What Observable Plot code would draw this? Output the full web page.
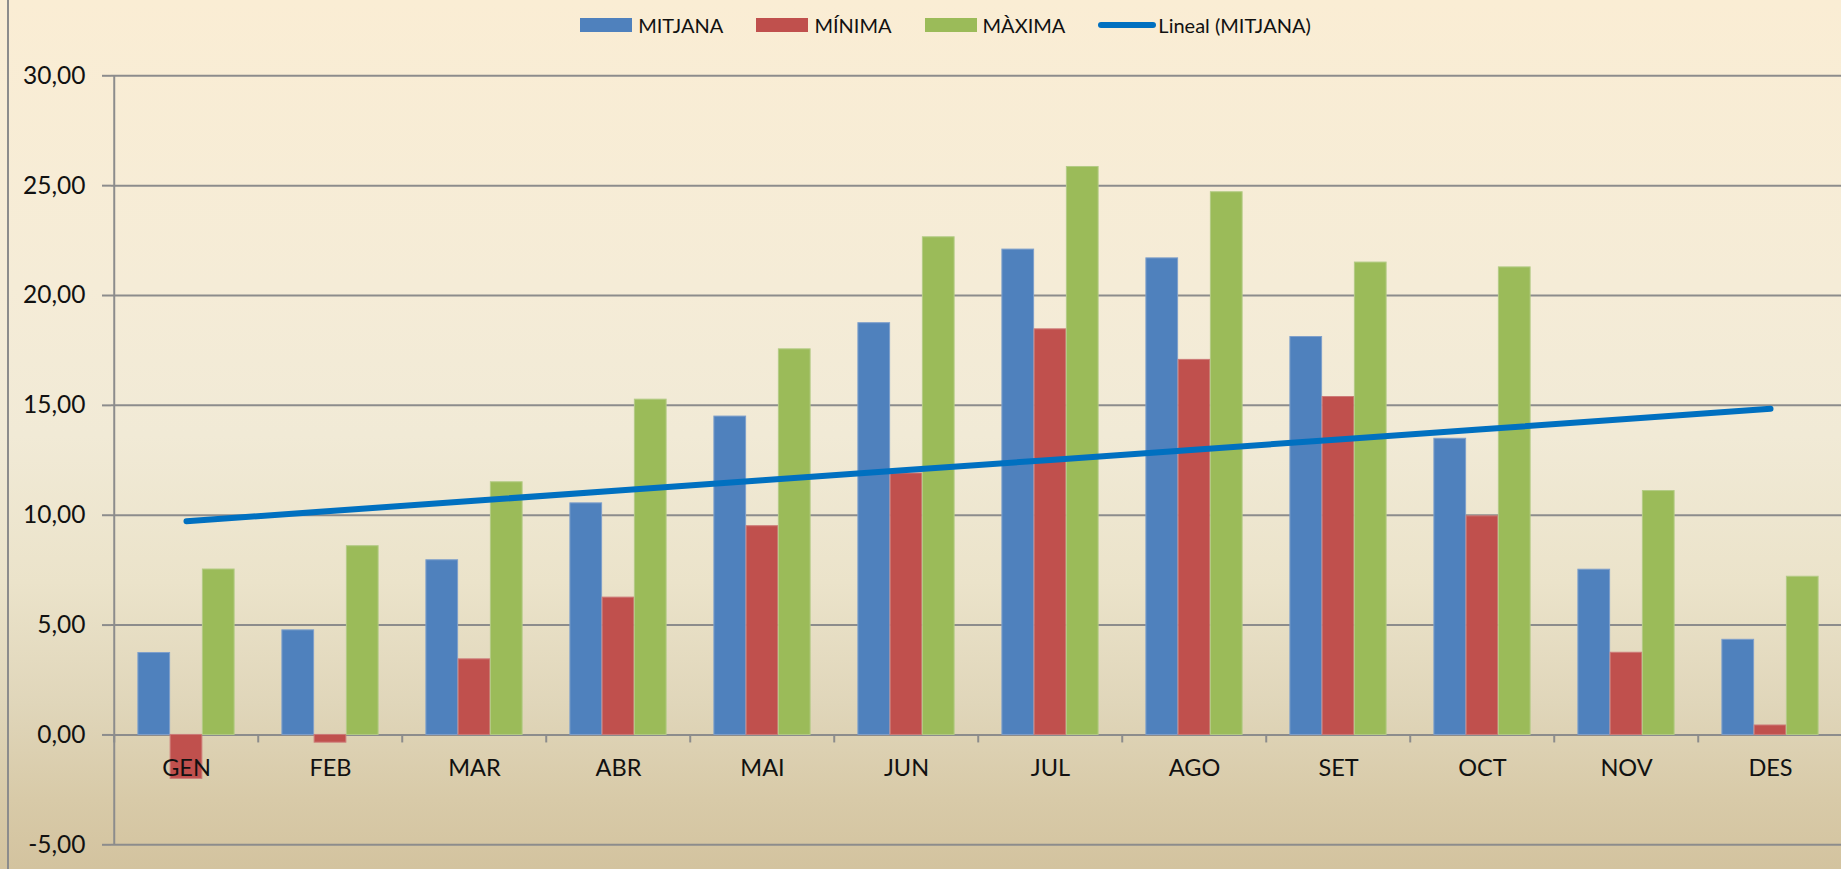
<!DOCTYPE html>
<html><head><meta charset="utf-8">
<script src="https://cdn.jsdelivr.net/npm/d3@7"></script>
<script src="https://cdn.jsdelivr.net/npm/@observablehq/plot@0.6"></script>
<style>
html,body{margin:0;padding:0;width:1841px;height:869px;overflow:hidden;}
body{position:relative;font-family:Lato,"Open Sans",sans-serif;color:#111;
background:linear-gradient(to bottom,#FAEDD4 0%,#F5ECD7 33%,#F1EAD6 50%,#EBE3CA 67%,#E0D6BA 81%,#D8CAA8 92%,#D3C39F 100%);}
#border{position:absolute;left:7px;top:0;width:2px;height:869px;background:#8c8c8c;}
#legend{height:50px;display:flex;align-items:center;justify-content:center;padding-left:50px;box-sizing:border-box;font-size:20px;}
.item{display:flex;align-items:center;margin-right:33px;}
.item:last-child{margin-right:0}
.sw{width:52px;height:14px;margin-right:6px;}
.ln{width:58px;height:6px;border-radius:3px;margin-right:2px;}
#chart svg{display:block;background:transparent;overflow:visible;}
</style></head><body>
<div id="border"></div>
<div id="legend"></div>
<div id="chart"></div>
<script>
const months = ["GEN","FEB","MAR","ABR","MAI","JUN","JUL","AGO","SET","OCT","NOV","DES"];
const mitjana = [3.73, 4.76, 7.95, 10.54, 14.49, 18.74, 22.09, 21.69, 18.11, 13.48, 7.52, 4.33];
const minima  = [-2.00, -0.35, 3.44, 6.25, 9.50, 11.90, 18.46, 17.07, 15.38, 9.95, 3.74, 0.43];
const maxima  = [7.53, 8.59, 11.50, 15.26, 17.55, 22.65, 25.85, 24.70, 21.50, 21.28, 11.10, 7.20];
const yTicks = [-5, 0, 5, 10, 15, 20, 25, 30];
const seriesNames = ["MITJANA", "MÍNIMA", "MÀXIMA"];
const seriesColors = ["#4F81BD", "#C0504D", "#9BBB59"];
const seriesStrokes = ["#7E9FCB", "#CD7A78", "#B3CB85"];
const trendName = "Lineal (MITJANA)";
const trendColor = "#0070C0";

// legend
const legend = document.getElementById("legend");
seriesNames.forEach((name, k) => {
  const it = document.createElement("div"); it.className = "item";
  it.innerHTML = `<div class="sw" style="background:${seriesColors[k]}"></div><span>${name}</span>`;
  legend.appendChild(it);
});
{
  const it = document.createElement("div"); it.className = "item";
  it.innerHTML = `<div class="ln" style="background:${trendColor}"></div><span>${trendName}</span>`;
  legend.appendChild(it);
}

// Excel-style linear trendline of MITJANA (least squares on month index)
const n = mitjana.length;
const mx = d3.mean(d3.range(n)), my = d3.mean(mitjana);
const slope = d3.sum(mitjana, (v, i) => (i - mx) * (v - my)) / d3.sum(d3.range(n), i => (i - mx) ** 2);
const intercept = my - slope * mx;

const W = 1841, H = 819;
const x0 = 110.9, x1 = 1845.2;
const step = (x1 - x0) / months.length;
const bw = 32.25;
const gap = (step - 3 * bw) / 2;
const series = [mitjana, minima, maxima];
const gray = "#8c8c8c";
const fmt = d => d.toFixed(2).replace(".", ",");

const chart = Plot.plot({
  width: W, height: H,
  marginLeft: 111, marginRight: 0, marginTop: 25.3, marginBottom: 24.7,
  style: {background: "transparent", color: "#111", fontFamily: "Lato, 'Open Sans', sans-serif", overflow: "visible"},
  x: {type: "band", domain: months, range: [x0, x1], padding: 0, axis: null},
  y: {domain: [-5, 30], axis: null},
  marks: [
    Plot.ruleY(yTicks, {stroke: gray, strokeWidth: 2}),
    ...series.map((vals, k) => Plot.barY(months, {
      x: d => d, y: (d, i) => vals[i],
      fill: seriesColors[k], stroke: seriesStrokes[k], strokeWidth: 1,
      insetLeft: gap + k * bw, insetRight: step - gap - (k + 1) * bw
    })),
    Plot.ruleX(months, {x: d => d, dx: -step / 2, y1: 0, y2: 0, insetBottom: -8, stroke: gray, strokeWidth: 2}),
    Plot.ruleX([months[0]], {x: d => d, dx: -step / 2, y1: -5, y2: 30, stroke: gray, strokeWidth: 2}),
    Plot.line(months, {x: d => d, y: (d, i) => intercept + slope * i, stroke: trendColor, strokeWidth: 6, strokeLinecap: "round"}),
    Plot.axisY(yTicks, {tickSize: 9, tickPadding: 17, tickFormat: fmt, fontSize: 24.5, stroke: gray, strokeWidth: 2, fill: "#111"}),
    Plot.text(months, {x: d => d, y: 0, dy: 34, text: d => d, fontSize: 23.5, fill: "#111"})
  ]
});
document.getElementById("chart").appendChild(chart);
</script>
</body></html>
